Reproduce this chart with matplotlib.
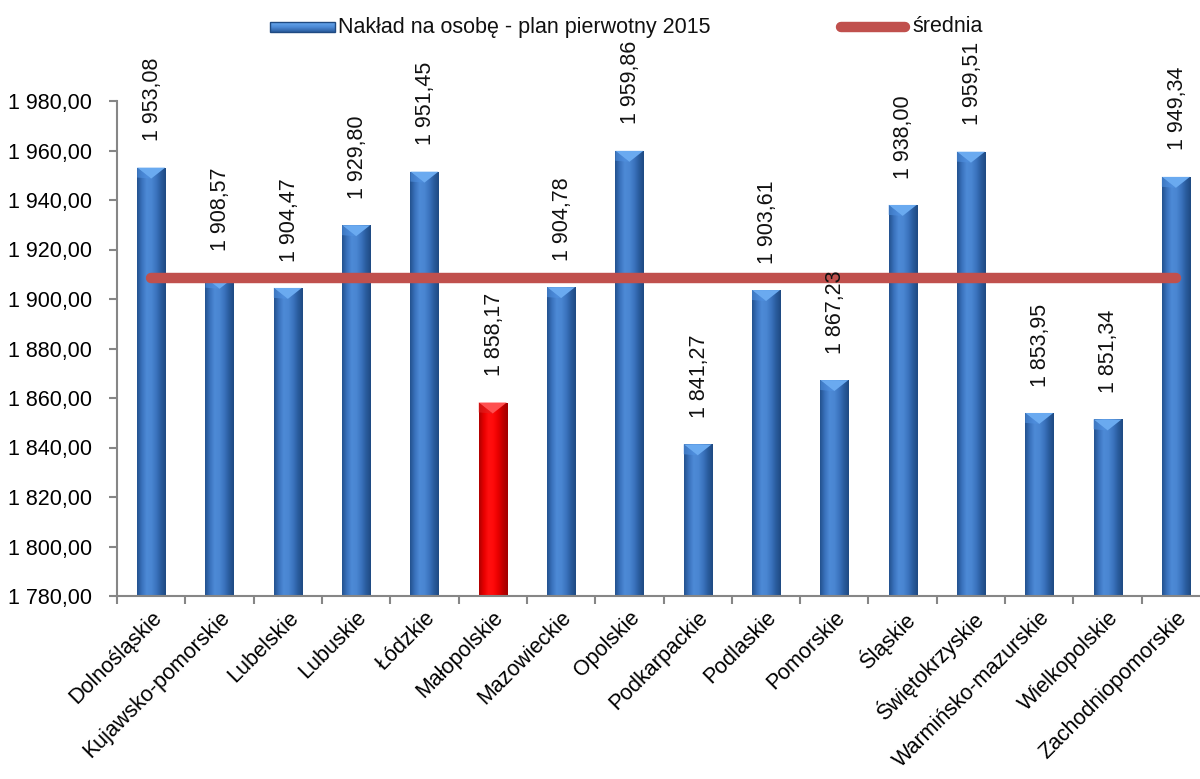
import numpy as np
import matplotlib
matplotlib.use("Agg")
import matplotlib.pyplot as plt
import matplotlib.transforms as mtransforms
from matplotlib.patches import Rectangle, Polygon
from matplotlib.lines import Line2D
from matplotlib.colors import LinearSegmentedColormap
from matplotlib.ticker import FuncFormatter, MultipleLocator

plt.rcParams['font.family'] = ['Liberation Sans', 'DejaVu Sans']

regions = ["Dolnośląskie", "Kujawsko-pomorskie", "Lubelskie", "Lubuskie", "Łódzkie",
           "Małopolskie", "Mazowieckie", "Opolskie", "Podkarpackie", "Podlaskie",
           "Pomorskie", "Śląskie", "Świętokrzyskie", "Warmińsko-mazurskie",
           "Wielkopolskie", "Zachodniopomorskie"]
values = [1953.08, 1908.57, 1904.47, 1929.80, 1951.45, 1858.17, 1904.78, 1959.86,
          1841.27, 1903.61, 1867.23, 1938.00, 1959.51, 1853.95, 1851.34, 1949.34]
highlight = "Małopolskie"
series_label = "Nakład na osobę - plan pierwotny 2015"
mean_label = "średnia"
mean_value = float(np.mean(values))


def pl_num(v):
    return f"{v:,.2f}".replace(",", " ").replace(".", ",")


W, H = 1200, 779
fig = plt.figure(figsize=(W / 100, H / 100), dpi=100)
ax = fig.add_axes([117 / W, 1 - 596 / H, (1210 - 117) / W, (596 - 101) / H])

ymin, ymax = 1780, 1980
n = len(regions)
x = np.arange(n)
bw = 0.41

blue_cmap = LinearSegmentedColormap.from_list(
    "cyl_blue", ["#23528f", "#3a72bd", "#4d8ad6", "#4a86d2", "#3b74bf", "#2a5c9e", "#1f4a82"])
red_cmap = LinearSegmentedColormap.from_list(
    "cyl_red", ["#b00000", "#e80000", "#ff1010", "#ff0a0a", "#e80000", "#c00000", "#a00000"])
grad = np.linspace(0, 1, 64).reshape(1, -1)

bars = ax.bar(x, np.array(values) - ymin, bottom=ymin, width=bw,
              color="#3a72bd", edgecolor="none", zorder=2)
px_per_unit = (596 - 101) / (ymax - ymin)
bevel = 11 / px_per_unit
for xi, v, name, b in zip(x, values, regions, bars):
    cmap = red_cmap if name == highlight else blue_cmap
    im = ax.imshow(grad, cmap=cmap, aspect="auto", interpolation="bicubic",
                   extent=[xi - bw / 2, xi + bw / 2, ymin, v], zorder=2.1)
    im.set_clip_path(b)
    top_col = "#ff5050" if name == highlight else "#6aaaf0"
    side_col = "#e02020" if name == highlight else "#4f90e0"
    ax.add_patch(Polygon([[xi - bw / 2, v], [xi + bw / 2, v], [xi, v - bevel]],
                         closed=True, facecolor=top_col, edgecolor="none", zorder=2.2))
    ax.add_patch(Polygon([[xi - bw / 2, v], [xi, v - bevel], [xi - bw / 2, v - bevel * 0.9]],
                         closed=True, facecolor=side_col, edgecolor="none", alpha=0.6, zorder=2.2))
    ax.annotate(pl_num(v), xy=(xi, v), xytext=(1, 19), textcoords="offset points",
                rotation=90, ha="center", va="bottom", fontsize=15.5,
                color="#111111", annotation_clip=False, zorder=4)

ax.plot(x, [mean_value] * n, color="#c0504d", lw=7.5, solid_capstyle="round", zorder=3)

ax.set_xlim(-0.5, n - 0.5)
ax.set_ylim(ymin, ymax)
ax.yaxis.set_major_locator(MultipleLocator(20))
ax.yaxis.set_major_formatter(FuncFormatter(lambda v, p: pl_num(v)))
ax.set_xticks(np.arange(n + 1) - 0.5, minor=False)
ax.set_xticklabels([])
ax.set_xticks(x, minor=True)
ax.set_xticklabels(regions, minor=True, rotation=45, ha="right", va="top",
                   rotation_mode="anchor", fontsize=15.5)
shift = mtransforms.ScaledTranslation(-14 / 100, 4 / 100, fig.dpi_scale_trans)
for lbl in ax.get_xticklabels(minor=True):
    lbl.set_transform(lbl.get_transform() + shift)
ax.tick_params(axis="x", which="minor", length=0, pad=8)
ax.tick_params(axis="x", which="major", length=6, width=1.5, color="#868686")
ax.tick_params(axis="y", length=6, width=1.5, color="#868686", labelsize=15.5, pad=12)
for s in ("top", "right"):
    ax.spines[s].set_visible(False)
for s in ("left", "bottom"):
    ax.spines[s].set_color("#868686")
    ax.spines[s].set_linewidth(1.5)


# legend row placed in figure pixels
def fx(px):
    return px / W


def fy(py):
    return 1 - py / H


lim = fig.add_axes([fx(270), fy(32), fx(65), 10 / H])
lim.imshow(np.linspace(0, 1, 64).reshape(-1, 1)[::-1], cmap=LinearSegmentedColormap.from_list(
    "leg", ["#2a5c9e", "#4d8ad6", "#6aaaf0"]), aspect="auto", extent=[0, 1, 0, 1])
lim.set_axis_off()
fig.add_artist(Rectangle((fx(270), fy(32)), fx(65), 10 / H, transform=fig.transFigure,
                         fill=False, edgecolor="#1f4a82", lw=1))
fig.text(fx(338), fy(27), series_label, fontsize=15.5, va="center", ha="left", color="#111111")
fig.add_artist(Line2D([fx(841), fx(905)], [fy(27), fy(27)], transform=fig.transFigure,
                      color="#c0504d", lw=7.5, solid_capstyle="round"))
fig.text(fx(912), fy(27), mean_label, fontsize=15.5, va="center", ha="left", color="#111111")

fig.savefig("out.png", dpi=100)
